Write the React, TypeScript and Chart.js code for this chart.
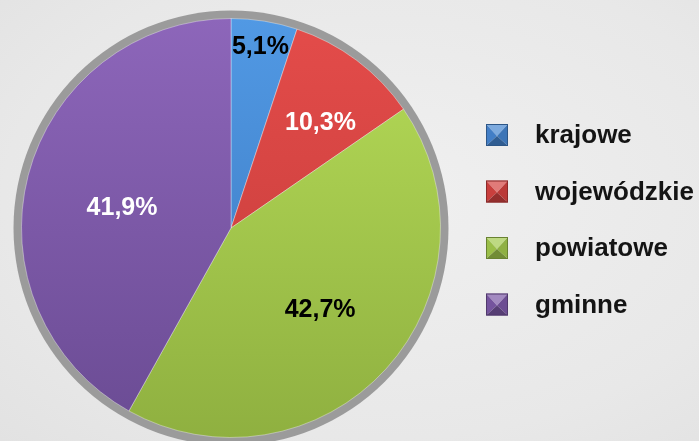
import React, { useEffect, useRef } from "react";
import { Chart, registerables } from "chart.js";

Chart.register(...registerables);

const categories = ["krajowe", "wojewódzkie", "powiatowe", "gminne"];
const shares = [5.1, 10.3, 42.7, 41.9];
const valueLabels = ["5,1%", "10,3%", "42,7%", "41,9%"];
const labelColors = ["#000000", "#ffffff", "#000000", "#ffffff"];
const labelRadiusFraction = [0.88, 0.66, 0.575, 0.53];
const labelAngleShiftDeg = [0, 3.4, 0, -3.5];
const topColors = ["#5199e4", "#e44c4a", "#b6dc58", "#8d66ba"];
const bottomColors = ["#3a76bd", "#c03a38", "#8fb040", "#6a4b93"];
const baseColors = ["#4585d0", "#d44240", "#a2c84c", "#7b58a6"];

const FONT = "'Liberation Sans', Arial, sans-serif";

function shade(hex: string, amt: number): string {
  const n = parseInt(hex.slice(1), 16);
  const r = (n >> 16) & 255, g = (n >> 8) & 255, b = n & 255;
  const f = (c: number) => {
    const v = amt >= 0 ? c + (255 - c) * amt : c * (1 + amt);
    return Math.max(0, Math.min(255, Math.round(v)));
  };
  return `rgb(${f(r)},${f(g)},${f(b)})`;
}

const rimPlugin = {
  id: "rim",
  beforeDatasetsDraw(chart: any) {
    const meta = chart.getDatasetMeta(0);
    const arc = meta.data[0];
    if (!arc) return;
    const { x, y, outerRadius } = arc.getProps(["x", "y", "outerRadius"], true);
    const ctx = chart.ctx;
    ctx.save();
    ctx.beginPath();
    ctx.arc(x, y, outerRadius + 8, 0, Math.PI * 2);
    ctx.fillStyle = "#9b9b9b";
    ctx.fill();
    ctx.restore();
  },
};

const labelPlugin = {
  id: "sliceLabels",
  afterDatasetsDraw(chart: any) {
    const meta = chart.getDatasetMeta(0);
    const ctx = chart.ctx;
    ctx.save();
    ctx.font = `bold 25px ${FONT}`;
    ctx.textAlign = "center";
    ctx.textBaseline = "middle";
    meta.data.forEach((el: any, i: number) => {
      const { x, y, startAngle, endAngle, outerRadius } = el.getProps(
        ["x", "y", "startAngle", "endAngle", "outerRadius"],
        true
      );
      const mid = (startAngle + endAngle) / 2 + (labelAngleShiftDeg[i] * Math.PI) / 180;
      const r = outerRadius * labelRadiusFraction[i];
      ctx.fillStyle = labelColors[i];
      ctx.fillText(valueLabels[i], x + Math.cos(mid) * r, y + Math.sin(mid) * r + 1);
    });
    ctx.restore();
  },
};

function tri(ctx: CanvasRenderingContext2D, pts: number[][], color: string) {
  ctx.fillStyle = color;
  ctx.beginPath();
  ctx.moveTo(pts[0][0], pts[0][1]);
  for (let k = 1; k < pts.length; k++) ctx.lineTo(pts[k][0], pts[k][1]);
  ctx.closePath();
  ctx.fill();
}

const legendPlugin = {
  id: "bevelLegend",
  afterDraw(chart: any) {
    const ctx = chart.ctx as CanvasRenderingContext2D;
    const boxX = 486;
    const size = 22;
    const startY = 135;
    const step = 56.5;
    ctx.save();
    categories.forEach((name, i) => {
      const cy = startY + i * step;
      const x0 = boxX, y0 = cy - size / 2, x1 = boxX + size, y1 = cy + size / 2;
      const cx = boxX + size / 2;
      const c = baseColors[i];
      const ccy = cy + 1;
      // pyramid: four triangles meeting at centre
      tri(ctx, [[x0, y0], [x1, y0], [cx, ccy]], shade(c, 0.3));
      tri(ctx, [[x0, y0], [cx, ccy], [x0, y1]], shade(c, -0.05));
      tri(ctx, [[x1, y0], [cx, ccy], [x1, y1]], shade(c, -0.12));
      tri(ctx, [[x0, y1], [cx, ccy], [x1, y1]], shade(c, -0.3));
      ctx.strokeStyle = shade(c, -0.35);
      ctx.lineWidth = 1;
      ctx.strokeRect(x0 + 0.5, y0 + 0.5, size - 1, size - 1);

      ctx.fillStyle = "#141414";
      ctx.font = `bold 26px ${FONT}`;
      ctx.textAlign = "left";
      ctx.textBaseline = "middle";
      ctx.fillText(name, 535, cy + 1);
    });
    ctx.restore();
  },
};

export default function App() {
  const ref = useRef<HTMLCanvasElement | null>(null);
  useEffect(() => {
    if (!ref.current) return;
    const chart = new Chart(ref.current, {
      type: "pie",
      data: {
        labels: categories,
        datasets: [
          {
            data: shares,
            backgroundColor: (context: any) => {
              const ch = context.chart;
              const area = ch.chartArea;
              const i = context.dataIndex;
              if (!area) return baseColors[i];
              const g = ch.ctx.createLinearGradient(0, area.top, 0, area.bottom);
              g.addColorStop(0, topColors[i]);
              g.addColorStop(1, bottomColors[i]);
              return g;
            },
            borderWidth: 1,
            borderColor: "rgba(255,255,255,0.35)",
          },
        ],
      },
      options: {
        responsive: false,
        animation: false,
        layout: { padding: { left: 21, right: 258, top: 18, bottom: 3 } },
        plugins: {
          legend: { display: false },
          tooltip: { enabled: false },
        },
      },
      plugins: [rimPlugin, labelPlugin, legendPlugin],
    });
    return () => chart.destroy();
  }, []);

  return (
    <div
      style={{
        position: "fixed",
        left: 0,
        top: 0,
        width: 699,
        height: 441,
        background: "radial-gradient(ellipse at 55% 45%, #f0f0f0 0%, #e8e8e8 70%, #e2e2e2 100%)",
      }}
    >
      <canvas ref={ref} width={699} height={441} style={{ display: "block" }} />
    </div>
  );
}
